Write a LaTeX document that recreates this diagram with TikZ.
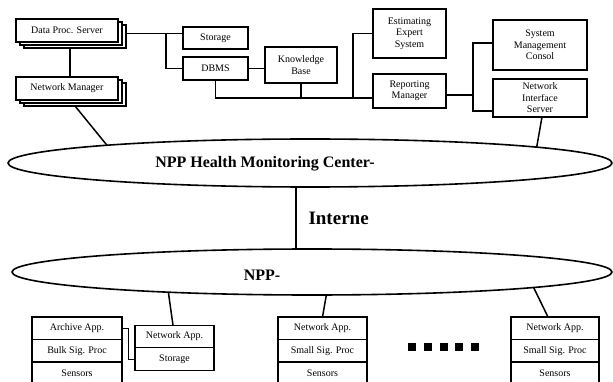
\documentclass[tikz,border=0pt]{standalone}
\usepackage{fontspec}
\setmainfont{Liberation Serif}
\usetikzlibrary{positioning,shapes.geometric,shadows}

\begin{document}
\begin{tikzpicture}[x=1pt, y=-1pt]
	\tikzstyle{box} = [ draw, rectangle, line width=1.1pt, fill=white, inner sep=0pt, outer sep=0pt, align=center, font={\fontsize{10}{11.5}\selectfont} ];
	\tikzstyle{stack} = [ box, minimum width=102, minimum height=23, double copy shadow={shadow xshift=4pt, shadow yshift=-3pt} ];
	\tikzstyle{row} = [ box, minimum height=22.5 ];
	\tikzstyle{net} = [ draw, ellipse, line width=1.6pt, inner sep=0pt, outer sep=0pt ];
	\tikzstyle{title} = [ font={\fontsize{16}{18}\selectfont\bfseries} ];
	\tikzstyle{wire} = [ line width=1.1pt ];
	\tikzstyle{uplink} = [ line width=1.5pt ];
	\tikzstyle{dot} = [ fill, rectangle, minimum size=8, inner sep=0pt ];

	\useasboundingbox (0,0) rectangle (613,382);
	\clip (0,0) rectangle (613,382);

	% health monitoring center
	\node[stack] (dps) at (67,30.5) {Data Proc. Server};
	\node[stack] (nm) at (67,88.5) {Network Manager};
	\node[box, minimum width=65, minimum height=22] (sto) at (215.5,38) {Storage};
	\node[box, minimum width=65, minimum height=23] (dbms) at (215.5,68.5) {DBMS};
	\node[box, minimum width=72, minimum height=36] (kb) at (301,65) {Knowledge\\Base};
	\node[box, minimum width=73, minimum height=49] (est) at (409.5,33.5) {Estimating\\Expert\\System};
	\node[box, minimum width=73, minimum height=34] (rep) at (409.5,91) {Reporting\\Manager};
	\node[box, minimum width=94, minimum height=50] (smc) at (540,45) {System\\Management\\Consol};
	\node[box, minimum width=94, minimum height=38] (nis) at (540,98) {Network\\Interface\\Server};

	\coordinate (dpsr) at ([shift={(8,3)}]dps.east);
	\coordinate (stox) at (166,0);
	\coordinate (busy) at (0,98);
	\coordinate (estx) at (353,0);
	\coordinate (repx) at (473,0);
	\coordinate (repout) at ([yshift=-4pt]rep.east);
	\coordinate (smcin) at ([yshift=2pt]smc.west);
	\coordinate (nisin) at ([yshift=-13pt]nis.west);

	\draw[wire] ([shift={(3,6)}]dps.south) -- ([xshift=3pt]nm.north);
	\draw[wire] (dpsr) -- (dpsr -| sto.west);
	\draw[wire] (dpsr -| stox) |- (dbms.west);
	\draw[wire] (dbms.east) -- (kb.west |- dbms.east);
	\draw[wire] (dbms.south) |- (busy -| rep.west);
	\draw[wire] (kb.south) -- (kb.south |- busy);
	\draw[wire] (estx |- busy) |- (est.west);
	\draw[wire] (repout) -- (repout -| repx);
	\draw[wire] (smcin) -| (repx |- nisin) -- (nisin);

	% the two networks
	\node[net, minimum width=604, minimum height=48] (hmc) at (310,163) {};
	\node[title] (hmct) at (265,164) {NPP Health Monitoring Center-};
	\node[net, minimum width=600, minimum height=46] (npp) at (312,272) {};
	\node[title] (nppt) at (262,275) {NPP-};

	\coordinate (inx) at (296,0);
	\draw[wire] (inx |- hmc.south) -- (inx |- npp.north);
	\node[font={\fontsize{19}{21}\selectfont\bfseries}, anchor=west] (inet) at (305,218) {Interne};

	\draw[uplink] ([shift={(8,6)}]nm.south) -- (hmc.175.2);
	\draw[uplink] ([xshift=2pt]nis.south) -- (hmc.4.2);

	% plant side
	\foreach \s/\cx/\cy/\w/\rows in {a/77/328.25/90/{Archive App., Bulk Sig. Proc, Sensors},
			n/174.5/336.5/79/{Network App., Storage},
			m/322.5/328.25/89/{Network App., Small Sig. Proc, Sensors},
			r/555/328.25/88/{Network App., Small Sig. Proc, Sensors}} {
		\foreach \x [count=\xi] in \rows {
			\ifnum 1 < \xi
				\pgfmathparse{int(\xi-1)}
				\let \li \pgfmathresult
				\node[row, minimum width=\w, below=0pt of \s\li] (\s\xi) {\x};
			\else
				\node[row, minimum width=\w] (\s\xi) at (\cx,\cy) {\x};
			\fi
		}
	}

	\draw[uplink] (npp.188.5) -- ([xshift=-1.5pt]n1.north);
	\draw[uplink] (npp.-58.7) -- (m1.north);
	\draw[uplink] (npp.-4.2) -- ([xshift=-7pt]r1.north);
	\draw[line width=0.8pt] (a1.east) -- +(6,0) |- (n2.west);

	\foreach \i in {0,...,4}
		\node[dot] (d\i) at (412+15.8*\i, 347) {};
\end{tikzpicture}
\end{document}
